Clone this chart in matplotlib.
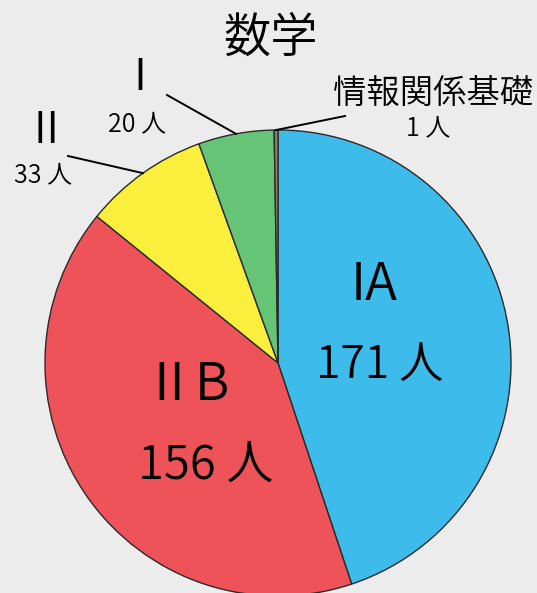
import numpy as np
import matplotlib
matplotlib.use("Agg")
import matplotlib.pyplot as plt

plt.rcParams['font.family'] = ['Noto Sans CJK JP', 'DejaVu Sans']
plt.rcParams['font.weight'] = 350

# data
subjects = ["IA", "ⅡB", "Ⅱ", "Ⅰ", "情報関係基礎"]
counts = [171, 156, 33, 20, 1]
colors = ["#3dbcec", "#ee5359", "#f9ef3c", "#66c476", "#8e7f6c"]

W, H = 537, 593
BG = "#ececec"

fig = plt.figure(figsize=(W / 100, H / 100), dpi=100, facecolor=BG)
ax = fig.add_axes([0, 0, 1, 1])
ax.set_facecolor(BG)

cx, cy, r = 278, H - 363, 233
wedges, _ = ax.pie(counts, colors=colors, startangle=90, counterclock=False,
                   center=(cx, cy), radius=r,
                   wedgeprops=dict(edgecolor="#2a2a2a", linewidth=1.0))
ax.set_xlim(0, W)
ax.set_ylim(0, H)
ax.set_aspect("equal")
ax.axis("off")

# labels inside the two big slices (image coords, y down)
inside = {0: ((374, 285), (380, 365), 38, 32),
          1: ((186, 385), (206, 465), 38, 34)}
for i, (p_name, p_cnt, fs1, fs2) in inside.items():
    ax.text(p_name[0], H - p_name[1], subjects[i], fontsize=fs1,
            ha="center", va="center")
    ax.text(p_cnt[0], H - p_cnt[1], f"{counts[i]} 人", fontsize=fs2,
            ha="center", va="center")

# outside labels with leader lines
outside = {
    2: ((46, 131), (43, 175), (68, 156), 31),
    3: ((140, 78), (137, 124), (167, 95), 31),
    4: ((433, 94), (428, 128), (345, 116), 24),
}
for i, (p_name, p_cnt, p_end, fs) in outside.items():
    w = wedges[i]
    mid = np.deg2rad((w.theta1 + w.theta2) / 2)
    x0 = cx + r * np.cos(mid)
    y0 = cy + r * np.sin(mid)
    ax.plot([x0, p_end[0]], [y0, H - p_end[1]], color="black", lw=1.4)
    ax.text(p_name[0], H - p_name[1], subjects[i], fontsize=fs,
            ha="center", va="center")
    ax.text(p_cnt[0], H - p_cnt[1], f"{counts[i]} 人", fontsize=18,
            ha="center", va="center")

ax.text(271, H - 38, "数学", fontsize=34, ha="center", va="center")

fig.savefig("out.png", dpi=100, facecolor=BG)
